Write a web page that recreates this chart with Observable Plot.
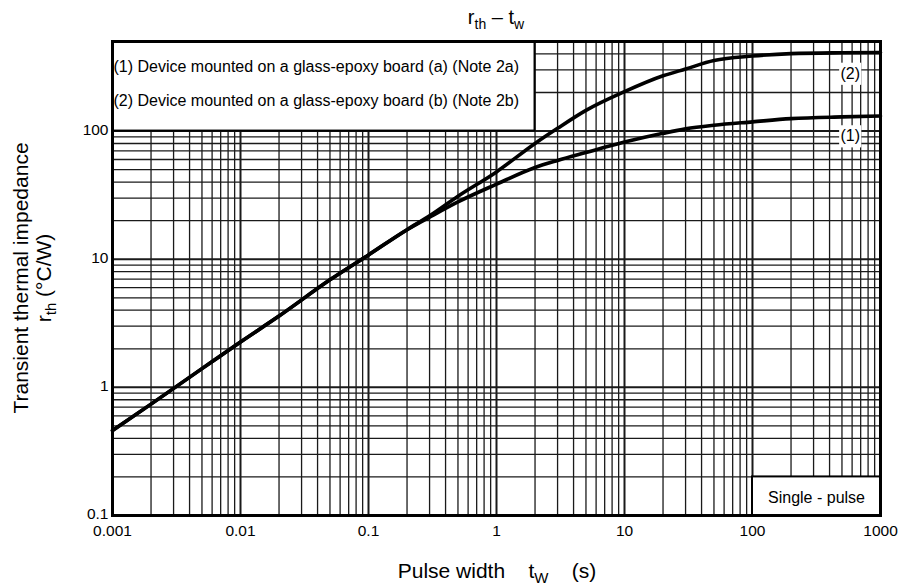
<!DOCTYPE html>
<html><head><meta charset="utf-8">
<script src="https://cdn.jsdelivr.net/npm/d3@7"></script>
<script src="https://cdn.jsdelivr.net/npm/@observablehq/plot@0.6"></script>
<style>body{margin:0;background:#fff} #chart{width:899px;height:588px}</style>
</head><body><div id="chart"></div>
<script>
// Pulse width (s)
const pulseWidth = [0.001, 0.002, 0.005, 0.01, 0.02, 0.05, 0.1, 0.2, 0.3, 0.5, 1, 2, 3, 5, 10, 20, 30, 50, 100, 200, 500, 1000];
// (1) glass-epoxy board (a)
const board1 = [0.46, 0.74, 1.4, 2.26, 3.6, 6.9, 10.8, 17, 21.3, 28, 38.5, 52, 59, 68, 82, 96, 104, 111, 118, 125, 129, 131];
// (2) glass-epoxy board (b)
const board2 = [0.46, 0.74, 1.4, 2.26, 3.6, 6.9, 10.8, 17, 21.8, 31, 48, 80, 105, 145, 203, 270, 305, 355, 385, 402, 408, 410];
const seriesNames = ["(1)", "(2)"];
const legendLines = [
  "(1) Device mounted on a glass-epoxy board (a) (Note 2a)",
  "(2) Device mounted on a glass-epoxy board (b) (Note 2b)"
];
const labelX = [580, 580];
const labelY = [91, 280];
const xTickValues = [0.001, 0.01, 0.1, 1, 10, 100, 1000];
const yTickValues = [0.1, 1, 10, 100, 500];
const mantissas = [2, 3, 4, 5, 6, 7, 8, 9];
const xDecades = [0.001, 0.01, 0.1, 1, 10, 100];
const yDecades = [0.1, 1, 10];
const yTopMinor = [200, 300, 400];
const legendBox = {x1: 0.001, x2: 2, y1: 100, y2: 500};
const noteBox = {x1: 100, x2: 1000, y1: 0.1, y2: 0.2};

const rows = [];
pulseWidth.forEach((t, i) => {
  rows.push({t, v: board1[i], s: seriesNames[0]});
  rows.push({t, v: board2[i], s: seriesNames[1]});
});
const xMinor = xDecades.flatMap(d => mantissas.map(m => +(m * d).toPrecision(3)));
const yMinor = yDecades.flatMap(d => mantissas.map(m => +(m * d).toPrecision(3))).concat(yTopMinor);
const labels = seriesNames.map((s, i) => ({s, x: labelX[i], y: labelY[i]}));

const font = "'Liberation Sans', Arial, sans-serif";
const gridColor = "#1a1a1a";

const chart = Plot.plot({
  width: 899,
  height: 588,
  marginLeft: 112,
  marginRight: 19,
  marginTop: 41,
  marginBottom: 73,
  style: {fontFamily: font, fontSize: "15.5px", color: "#000", background: "#fff"},
  x: {type: "log", domain: [0.001, 1000]},
  y: {type: "log", domain: [0.1, 500]},
  marks: [
    Plot.ruleX(xMinor, {stroke: gridColor, strokeWidth: 1.3}),
    Plot.ruleY(yMinor, {stroke: gridColor, strokeWidth: 1.3}),
    Plot.ruleX(xTickValues, {stroke: gridColor, strokeWidth: 2}),
    Plot.ruleY(yTickValues, {stroke: gridColor, strokeWidth: 2}),
    Plot.rect([legendBox], {x1: "x1", x2: "x2", y1: "y1", y2: "y2", fill: "#fff", stroke: "#000", strokeWidth: 2}),
    Plot.rect([noteBox], {x1: "x1", x2: "x2", y1: "y1", y2: "y2", fill: "#fff", stroke: "#000", strokeWidth: 2}),
    Plot.dot(labels, {x: "x", y: "y", symbol: "square", r: 12.5, fill: "#fff", stroke: null}),
    Plot.line(rows, {x: "t", y: "v", z: "s", stroke: "#000", strokeWidth: 3.6, curve: "monotone-x"}),
    Plot.text(labels, {x: "x", y: "y", text: "s", fontSize: 16, fill: "#000"}),
    Plot.text([legendLines[0]], {frameAnchor: "top-left", lineAnchor: "middle", dx: 1, dy: 25, textAnchor: "start", fontSize: 16, fill: "#000"}),
    Plot.text([legendLines[1]], {frameAnchor: "top-left", lineAnchor: "middle", dx: 1, dy: 59, textAnchor: "start", fontSize: 16, fill: "#000"}),
    Plot.text(["Single - pulse"], {frameAnchor: "bottom-right", lineAnchor: "middle", dx: -64, dy: -18, textAnchor: "middle", fontSize: 16, fill: "#000"}),
    Plot.axisX({ticks: xTickValues, tickSize: 0, tickPadding: 9, tickFormat: d => String(d), label: null}),
    Plot.axisY({ticks: yTickValues, tickSize: 0, tickPadding: 4, dy: -1, tickFormat: d => String(d), label: null}),
    Plot.frame({stroke: "#000", strokeWidth: 3})
  ]
});

const svg = d3.select(chart);
// Title
const title = svg.append("text").attr("x", 496).attr("y", 24).attr("text-anchor", "middle")
  .attr("font-family", font).attr("font-size", 20).attr("fill", "#000");
title.append("tspan").text("r");
title.append("tspan").attr("font-size", 14).attr("dy", 5).text("th");
title.append("tspan").attr("dy", -5).text(" \u2013 t");
title.append("tspan").attr("font-size", 14).attr("dy", 5).text("w");

// X label
const xl = svg.append("text").attr("x", 497).attr("y", 578).attr("text-anchor", "middle")
  .attr("font-family", font).attr("font-size", 21).attr("fill", "#000").attr("xml:space", "preserve");
xl.append("tspan").text("Pulse width    t");
xl.append("tspan").attr("font-size", 15).attr("dy", 5).text("W");
xl.append("tspan").attr("dy", -5).text("    (s)");

// Y label
svg.append("text").attr("transform", "translate(28,278) rotate(-90)").attr("text-anchor", "middle")
  .attr("font-family", font).attr("font-size", 21).attr("fill", "#000").text("Transient thermal impedance");
const yl2 = svg.append("text").attr("transform", "translate(51,278) rotate(-90)").attr("text-anchor", "middle")
  .attr("font-family", font).attr("font-size", 21).attr("fill", "#000");
yl2.append("tspan").text("r");
yl2.append("tspan").attr("font-size", 15).attr("dy", 5).text("th");
yl2.append("tspan").attr("dy", -5).text(" (\u00B0C/W)");

document.getElementById("chart").appendChild(chart);
</script>
</body></html>
